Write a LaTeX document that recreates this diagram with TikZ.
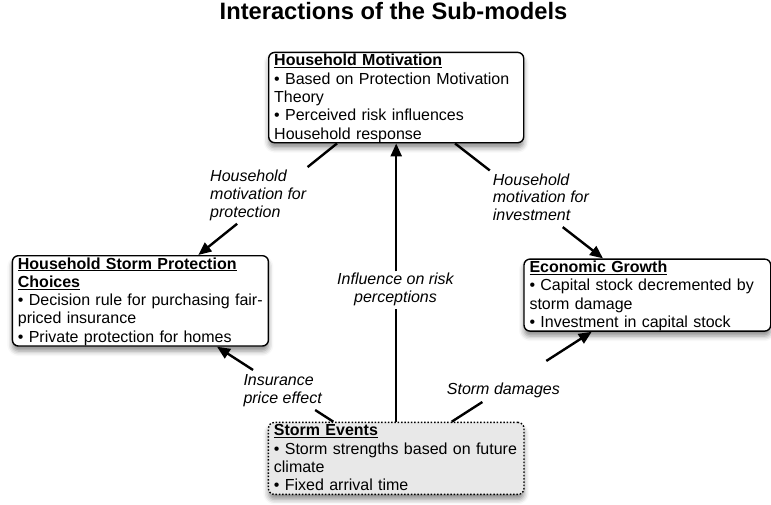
\documentclass[tikz,border=0pt]{standalone}
\usepackage{fontspec}
\setmainfont{Liberation Sans}
\usetikzlibrary{arrows.meta,shadows.blur}
\definecolor{sefill}{gray}{0.91}
\newsavebox\ulbox
\newcommand\ulh[1]{\leavevmode\sbox\ulbox{\bfseries #1}\rlap{\rule[-2.4pt]{\wd\ulbox}{1.2pt}}\usebox\ulbox}
\newcommand\tops{\rule{0pt}{13.3pt}}
\newcommand\bots{\rule[-3.7pt]{0pt}{3.7pt}}
\tikzset{
  box/.style={draw, line width=1.4pt, rounded corners=6pt, fill=white, anchor=north west,
    align=left, inner xsep=5.5pt, inner ysep=0pt,
    font=\fontsize{16pt}{18.33pt}\selectfont,
    blur shadow={shadow xshift=0pt, shadow yshift=-5pt, shadow blur radius=5pt, shadow opacity=45}},
  sebox/.style={box, fill=sefill, dash pattern=on 1.5pt off 1.8pt},
  lab/.style={inner sep=0pt, font=\fontsize{16pt}{17.7pt}\selectfont\itshape},
  conn/.style={line width=2.4pt},
  arr/.style={line width=2.4pt, -{Triangle[length=13pt,width=11pt]}}
}
\begin{document}
\begin{tikzpicture}[x=1pt,y=-1pt]
\useasboundingbox (0,0) rectangle (771,504);
\node[font=\fontsize{23.7pt}{28pt}\selectfont\bfseries, anchor=base] (title) at (393.5,19.5) {Interactions of the Sub-models};

\node[box, text width=244pt] (hm) at (268,51.7) {\tops\ulh{Household Motivation}\\
• Based on Protection Motivation\\
Theory\\
• Perceived risk influences\\
Household response\bots};

\node[box, text width=245pt] (hspc) at (11.7,255) {\tops\ulh{Household Storm Protection}\\
\ulh{Choices}\\
• Decision rule for purchasing fair-\\
priced insurance\\
• Private protection for homes\bots};

\node[box, text width=235.7pt] (eg) at (523.3,258.4) {\tops\ulh{Economic Growth}\\
• Capital stock decremented by\\
storm damage\\
• Investment in capital stock\bots};

\node[sebox, text width=244.6pt] (se) at (267.7,421.7) {\tops\ulh{Storm Events}\\
• Storm strengths based on future\\
climate\\
• Fixed arrival time\bots};

% connectors with gaps for labels
\path ([xshift=69pt]hm.south west) -- ([xshift=186.6pt]hspc.north west)
  coordinate[pos=0.212] (a1g1) coordinate[pos=0.72] (a1g2);
\draw[conn] ([xshift=69pt]hm.south west) -- (a1g1);
\draw[arr] (a1g2) -- ([xshift=186.6pt]hspc.north west);

\path ([xshift=187pt]hm.south west) -- ([xshift=79.7pt]eg.north west)
  coordinate[pos=0.235] (a2g1) coordinate[pos=0.728] (a2g2);
\draw[conn] ([xshift=187pt]hm.south west) -- (a2g1);
\draw[arr] (a2g2) -- ([xshift=79.7pt]eg.north west);

\path (se.north) -- (hm.south)
  coordinate[pos=0.405] (a3g1) coordinate[pos=0.54] (a3g2);
\draw[conn] (se.north) -- (a3g1);
\draw[arr] (a3g2) -- (hm.south);

\path ([xshift=65.6pt]se.north west) -- ([xshift=205.3pt]hspc.south west)
  coordinate[pos=0.156] (a4g1) coordinate[pos=0.69] (a4g2);
\draw[conn] ([xshift=65.6pt]se.north west) -- (a4g1);
\draw[arr] (a4g2) -- ([xshift=205.3pt]hspc.south west);

\path ([xshift=184pt]se.north west) -- ([xshift=68.4pt]eg.south west)
  coordinate[pos=0.219] (a5g1) coordinate[pos=0.676] (a5g2);
\draw[conn] ([xshift=184pt]se.north west) -- (a5g1);
\draw[arr] (a5g2) -- ([xshift=68.4pt]eg.south west);

% labels
\node[lab, align=left, anchor=north west] (l1) at (210,168.2) {\tops Household\\motivation for\\protection};
\node[lab, align=left, anchor=north west] (l2) at (492.7,171.7) {\tops Household\\motivation for\\investment};
\node[lab, align=center, anchor=north] (l3) at (395.5,271.2) {\tops Influence on risk\\perceptions};
\node[lab, align=left, anchor=north west] (l4) at (243.3,372.4) {\tops Insurance\\price effect};
\node[lab, align=left, anchor=north west] (l5) at (446.7,381.2) {\tops Storm damages};
\end{tikzpicture}
\end{document}
